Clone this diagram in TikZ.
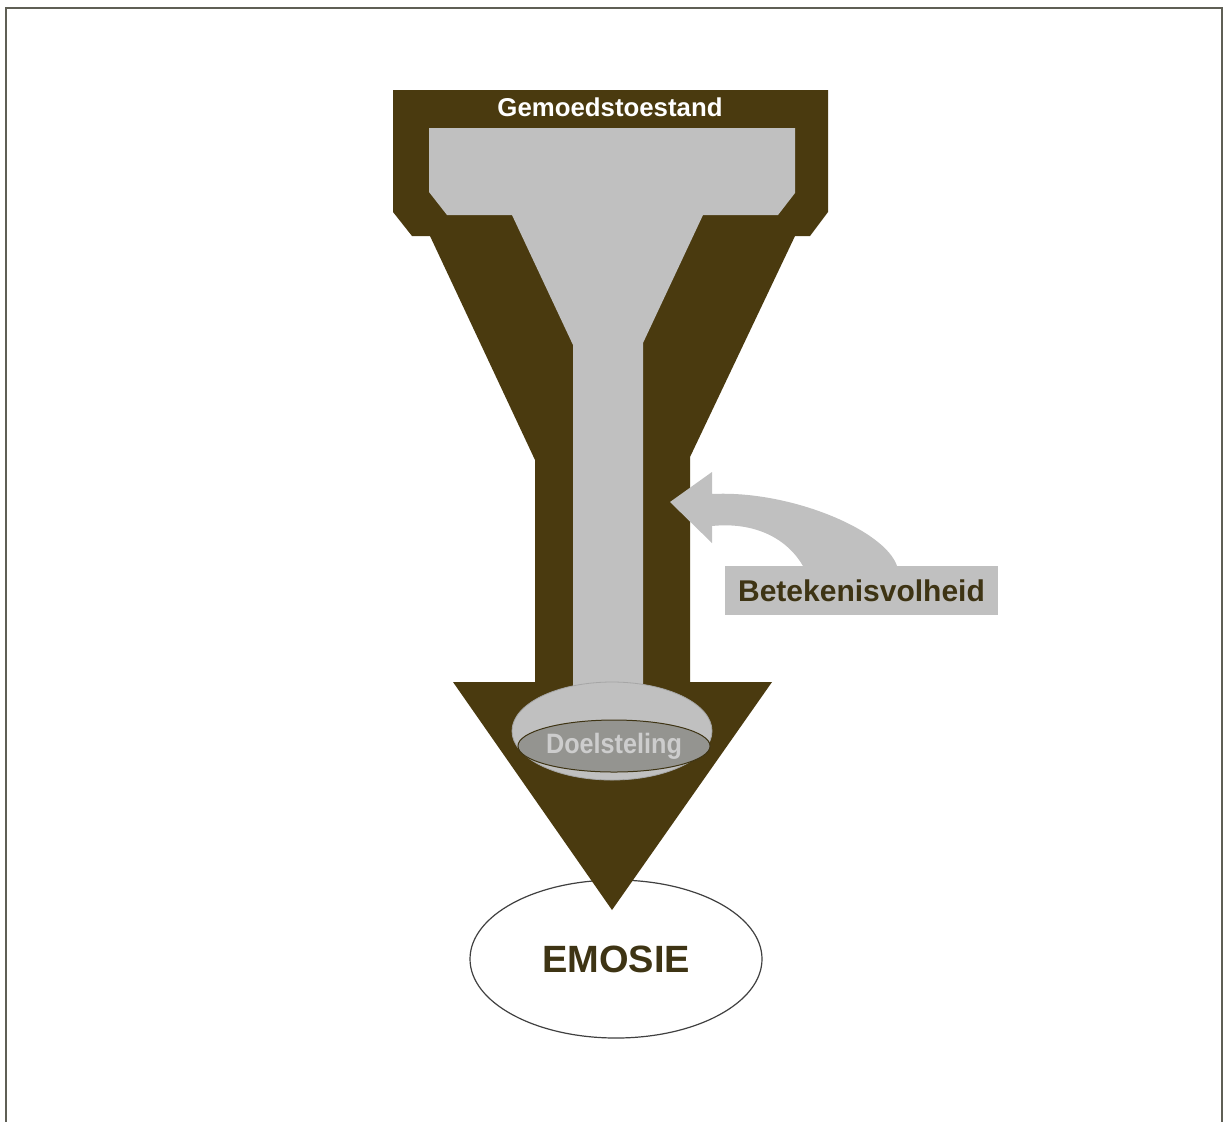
\documentclass[tikz,border=0pt]{standalone}
\usepackage{fontspec}
\usepackage{graphicx}
\setmainfont{Liberation Sans}
\usetikzlibrary{shapes.geometric}
\definecolor{brownD}{RGB}{74,58,15}
\definecolor{greyL}{RGB}{192,192,192}
\definecolor{greyM}{RGB}{148,148,144}
\definecolor{greyT}{RGB}{205,205,205}
\definecolor{frameC}{RGB}{95,95,85}
\definecolor{labelC}{RGB}{62,52,20}
\tikzset{
  darkshape/.style={fill=brownD, draw=none},
  lightshape/.style={fill=greyL, draw=none},
  ovalbox/.style={ellipse, inner sep=0pt},
}
\begin{document}
\begin{tikzpicture}[x=0.5pt,y=-0.5pt]
\useasboundingbox (0,0) rectangle (1224,1121);
\fill[white] (0,0) rectangle (1224,1121);
% frame (open at bottom)
\draw[frameC, line width=1pt] (6,1125) -- (6,8) -- (1222,8) -- (1222,1125);

% EMOSIE ellipse
\node[ovalbox, draw=black!75, line width=0.6pt, fill=white, minimum width=146pt, minimum height=79pt,
      font=\fontsize{19}{22}\selectfont\bfseries, text=labelC] (emosie) at (616,959) {EMOSIE};

% dark funnel arrow
\path[darkshape] (393,90) -- (828,90) -- (828,212) -- (810,236) -- (795,236) -- (690,457)
  -- (690,682) -- (772,682) -- (612,910) -- (453,682) -- (535,682) -- (535,460)
  -- (430,236) -- (412,236) -- (393,212) -- cycle;

% light inner funnel
\path[lightshape] (429,128) -- (795,128) -- (795,193) -- (778,215) -- (703,215) -- (643,343)
  -- (643,690) -- (573,690) -- (573,345) -- (512,215) -- (447,215) -- (429,192) -- cycle;

% light ellipse and Doelsteling
\node[ovalbox, fill=greyL, draw=black!35, line width=0.4pt, minimum width=100pt, minimum height=49pt] (outerdoel) at (612,731) {};
\node[ovalbox, fill=greyM, draw=labelC, line width=0.5pt, minimum width=85pt, minimum height=26pt,
      font=\fontsize{14}{16}\selectfont\bfseries, text=greyT] (doel) at (614,746) {\scalebox{0.9}[1]{Doelsteling}};

% title
\node[font=\fontsize{12.9}{15}\selectfont\bfseries, text=white] (title) at (610,107) {Gemoedstoestand};

% curved arrow
\path[lightshape] (670,502) -- (712,472) -- (712,494)
  .. controls (790,490) and (885,530) .. (897,566)
  -- (803,566)
  .. controls (785,535) and (750,522) .. (712,526)
  -- (712,543) -- cycle;

% label box
\node[fill=greyL, minimum width=136.5pt, minimum height=24.5pt, inner sep=0pt,
      font=\fontsize{15}{18}\selectfont\bfseries, text=labelC] (label) at (861.5,590.5) {Betekenisvolheid};
\end{tikzpicture}
\end{document}
